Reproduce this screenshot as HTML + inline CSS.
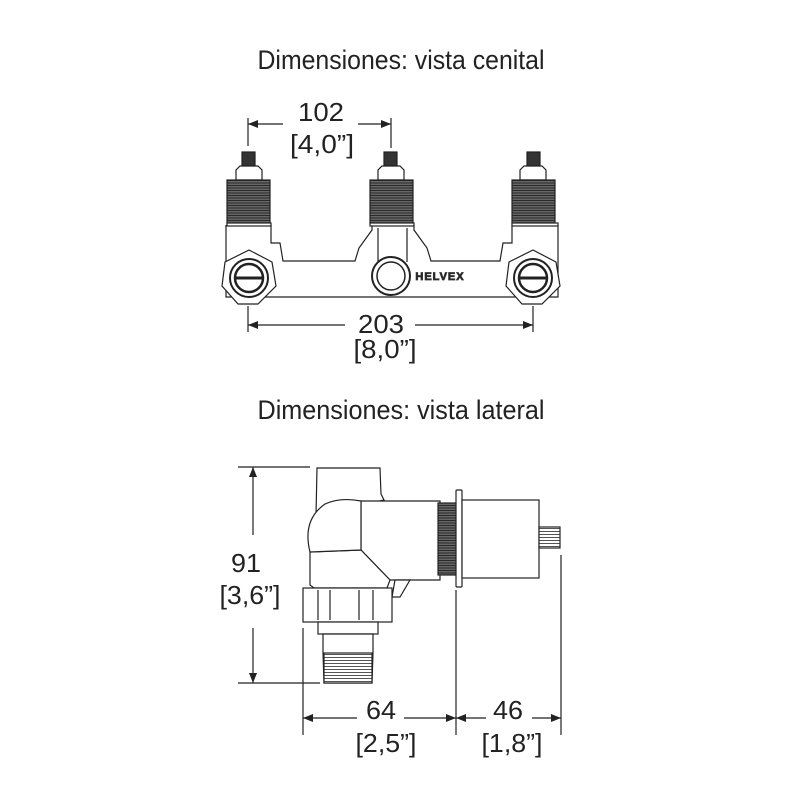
<!DOCTYPE html>
<html><head><meta charset="utf-8"><style>
html,body{margin:0;padding:0;background:#fff;}
svg{display:block;}
text{font-family:"Liberation Sans Narrow","Liberation Sans",sans-serif;fill:#222;}
</style></head><body>
<svg width="800" height="800" viewBox="0 0 800 800" xmlns="http://www.w3.org/2000/svg">
<defs>
<marker id="a" markerWidth="10" markerHeight="8" refX="10" refY="4" orient="auto-start-reverse" markerUnits="userSpaceOnUse"><path d="M0,0 L10,4 L0,8 z" fill="#222"/></marker>
<pattern id="thr" width="4" height="2.5" patternUnits="userSpaceOnUse"><rect width="4" height="2.5" fill="#666"/><rect width="4" height="1" fill="#2a2a2a"/></pattern>
<pattern id="thr2" width="4" height="3" patternUnits="userSpaceOnUse"><rect width="4" height="3" fill="#fff"/><rect width="4" height="1" fill="#555"/></pattern>
</defs>
<text x="401" y="69" font-size="27" text-anchor="middle" textLength="287" lengthAdjust="spacingAndGlyphs">Dimensiones: vista cenital</text>
<text x="401" y="419" font-size="27" text-anchor="middle" textLength="287" lengthAdjust="spacingAndGlyphs">Dimensiones: vista lateral</text>

<g stroke="#222" stroke-width="1.2" fill="none">
<line x1="248" y1="118" x2="248" y2="146"/>
<line x1="391" y1="118" x2="391" y2="148"/>
<line x1="248" y1="124" x2="283" y2="124" marker-start="url(#a)"/>
<line x1="358" y1="124" x2="391" y2="124" marker-end="url(#a)"/>
<path d="M226,225 L226,297 L558,297 L558,225 M271,225 L271,243 L280,243 L283,261 L355,261 L359,248 L372,230 L372,225 M414,225 L414,230 L427,248 L431,261 L500,261 L503,243 L512,243 L512,225" fill="#fff"/>
<line x1="378" y1="228" x2="378" y2="262"/><line x1="407" y1="228" x2="407" y2="262"/>
<g fill="#fff">
<rect x="242" y="152" width="13" height="14" fill="#333"/>
<path d="M236,180 L236,170 L240,166 L258,166 L262,170 L262,180 z"/>
<rect x="227" y="180" width="43" height="43" fill="url(#thr)"/>
<rect x="227" y="223" width="44" height="3"/>
<rect x="384" y="152" width="13" height="14" fill="#333"/>
<path d="M378,180 L378,170 L382,166 L400,166 L404,170 L404,180 z"/>
<rect x="370" y="180" width="43" height="43" fill="url(#thr)"/>
<rect x="370" y="223" width="44" height="3"/>
<rect x="527" y="152" width="13" height="14" fill="#333"/>
<path d="M520,180 L520,170 L524,166 L542,166 L546,170 L546,180 z"/>
<rect x="512" y="180" width="43" height="43" fill="url(#thr)"/>
<rect x="512" y="223" width="46" height="3"/>
<polygon points="249,250 272,262 276,286 258,304 238,304 222,286 225,262"/>
<circle cx="249" cy="278" r="19" stroke-width="2"/>
<circle cx="249" cy="278" r="14" stroke-width="2.5"/>
<line x1="236" y1="278" x2="262" y2="278" stroke-width="3"/>
<circle cx="391" cy="276" r="19" stroke-width="2"/>
<circle cx="391" cy="276" r="14" stroke-width="1.5"/>
<polygon points="533,250 556,262 560,286 542,304 522,304 506,286 509,262"/>
<circle cx="533" cy="278" r="19" stroke-width="2"/>
<circle cx="533" cy="278" r="14" stroke-width="2.5"/>
<line x1="520" y1="278" x2="546" y2="278" stroke-width="3"/>
</g>
<line x1="248" y1="306" x2="248" y2="332"/>
<line x1="533" y1="306" x2="533" y2="332"/>
<line x1="248" y1="325" x2="345" y2="325" marker-start="url(#a)"/>
<line x1="415" y1="325" x2="533" y2="325" marker-end="url(#a)"/>

<!-- lateral view -->
<line x1="238" y1="467" x2="310" y2="467"/>
<line x1="238" y1="683" x2="320" y2="683"/>
<line x1="253" y1="467" x2="253" y2="535" marker-start="url(#a)"/>
<line x1="253" y1="628" x2="253" y2="683" marker-end="url(#a)"/>
<g fill="#fff">
<path d="M317,468 L380,468 L381,494 L384,500 L316,515 z"/>
<path d="M361,501 L440,501 L440,580 L390,580 L361,550 z"/>
<path d="M310,552 L310,585 L314,588 L387,588 L390,580 L361,550 z"/>
<path d="M310,552 Q302,520 325,504 Q340,497 361,501 L361,550 z"/>
<path d="M395,580 L410,580 L400,597 L392,597 z"/>
<rect x="438" y="503" width="20" height="72" fill="url(#thr)"/>
<rect x="456" y="490" width="6" height="97" rx="1"/>
<rect x="462" y="500" width="77" height="78"/>
<rect x="539" y="527" width="21" height="21" fill="url(#thr2)"/>
<rect x="303" y="588" width="89" height="34"/>
<line x1="318" y1="590" x2="318" y2="620"/><line x1="330" y1="590" x2="330" y2="620"/><line x1="359" y1="590" x2="359" y2="620"/><line x1="373" y1="590" x2="373" y2="620"/>
<rect x="318" y="622" width="60" height="12"/>
<path d="M323,634 L373,634 L373,653 L372,683 L324,683 L323,653 z"/>
<rect x="324" y="653" width="48" height="30" fill="url(#thr2)"/>
</g>
<line x1="303" y1="628" x2="303" y2="735"/>
<line x1="456" y1="590" x2="456" y2="735"/>
<line x1="561" y1="555" x2="561" y2="735"/>
<line x1="303" y1="718" x2="357" y2="718" marker-start="url(#a)"/>
<line x1="404" y1="718" x2="456" y2="718" marker-end="url(#a)"/>
<line x1="456" y1="718" x2="486" y2="718" marker-start="url(#a)"/>
<line x1="532" y1="718" x2="561" y2="718" marker-end="url(#a)"/>
</g>
<text x="440" y="280" font-size="11" text-anchor="middle" fill="#fff" stroke="#333" stroke-width="0.8" font-family="Liberation Sans" font-weight="bold" letter-spacing="1">HELVEX</text>

<g font-size="26" text-anchor="middle">
<text x="321" y="121" textLength="46" lengthAdjust="spacingAndGlyphs">102</text>
<text x="322" y="153" textLength="64" lengthAdjust="spacingAndGlyphs">[4,0”]</text>
<text x="381" y="333" textLength="46" lengthAdjust="spacingAndGlyphs">203</text>
<text x="385" y="358" textLength="63" lengthAdjust="spacingAndGlyphs">[8,0”]</text>
<text x="246" y="572" textLength="30" lengthAdjust="spacingAndGlyphs">91</text>
<text x="250" y="604" textLength="61" lengthAdjust="spacingAndGlyphs">[3,6”]</text>
<text x="381" y="719" textLength="30" lengthAdjust="spacingAndGlyphs">64</text>
<text x="386" y="752" textLength="61" lengthAdjust="spacingAndGlyphs">[2,5”]</text>
<text x="508" y="719" textLength="30" lengthAdjust="spacingAndGlyphs">46</text>
<text x="512" y="752" textLength="61" lengthAdjust="spacingAndGlyphs">[1,8”]</text>
</g>
</svg>
</body></html>
